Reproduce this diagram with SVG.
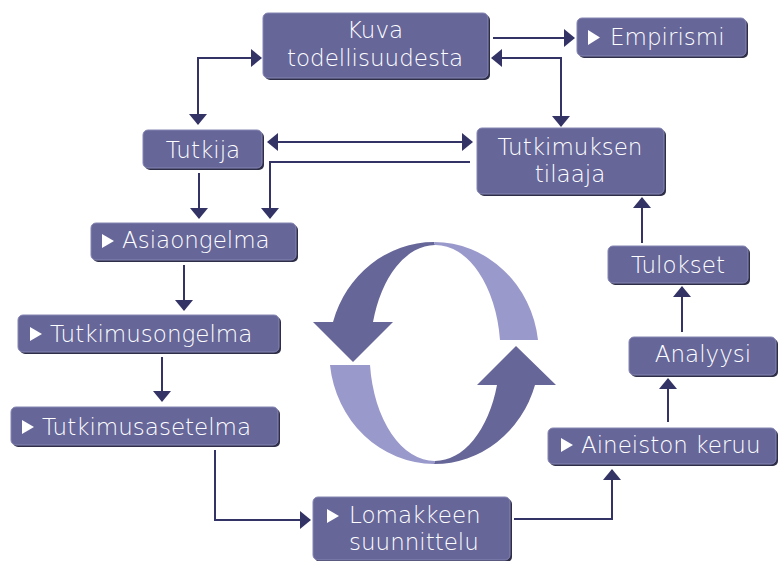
<svg xmlns="http://www.w3.org/2000/svg" width="778" height="561" viewBox="0 0 778 561">
<defs>
<style>
.sh{fill:#2e2e48}
.bx{fill:#666699;stroke:#8585b3;stroke-width:1}
.t{fill:#ffffff;font-family:"DejaVu Sans","Liberation Sans",sans-serif;font-size:23px;font-weight:200}
.c{text-anchor:middle}
.ic{fill:#ffffff}
.ln{fill:none;stroke:#333366;stroke-width:2}
.dk{fill:#666699}
.lt{fill:#9999cc}
</style>
<marker id="ah" markerUnits="userSpaceOnUse" markerWidth="11" markerHeight="18" viewBox="0 0 11 18" refX="10" refY="9" orient="auto-start-reverse">
<path d="M0,0 L11,9 L0,18 Z" fill="#333366"/>
</marker>
</defs>
<rect width="778" height="561" fill="#ffffff"/>

<g id="cycle">
<path class="dk" d="M434,242 A105,111 0 0 0 333,322 L313,322 L353,362 L393,322 L373,322 A65,108 0 0 1 435,245 Z"/>
<path class="lt" d="M434,242 A105,111 0 0 1 538,340 L500,340 A65,108 0 0 0 435,245 Z"/>
<path class="lt" d="M330,365 A105,111 0 0 0 434,464 L435,461 A65,108 0 0 1 370,365 Z"/>
<path class="dk" d="M434,464 A105,111 0 0 0 535,385 L556,385 L516,346 L477,385 L497,385 A65,108 0 0 1 435,461 Z"/>
</g>

<g id="connectors">
<path class="ln" d="M261,58 H198 V124" marker-start="url(#ah)" marker-end="url(#ah)"/>
<path class="ln" d="M493,38 H574" marker-end="url(#ah)"/>
<path class="ln" d="M492,58 H561 V126" marker-start="url(#ah)" marker-end="url(#ah)"/>
<path class="ln" d="M268,142 H472" marker-start="url(#ah)" marker-end="url(#ah)"/>
<path class="ln" d="M470,162 H270 V218" marker-end="url(#ah)"/>
<path class="ln" d="M199,173 V218" marker-end="url(#ah)"/>
<path class="ln" d="M184,265 V310" marker-end="url(#ah)"/>
<path class="ln" d="M162,357 V401" marker-end="url(#ah)"/>
<path class="ln" d="M215,450 V520 H310" marker-end="url(#ah)"/>
<path class="ln" d="M514,519 H612 V470" marker-end="url(#ah)"/>
<path class="ln" d="M668,422 V379" marker-end="url(#ah)"/>
<path class="ln" d="M682,332 V287" marker-end="url(#ah)"/>
<path class="ln" d="M642,243 V198" marker-end="url(#ah)"/>
</g>

<g id="kuva">
<rect class="sh" x="265" y="15" width="225" height="65" rx="5"/>
<rect class="bx" x="263" y="13" width="225" height="65" rx="5"/>
<text class="t c" x="375" y="38">Kuva</text>
<text class="t c" x="375" y="66">todellisuudesta</text>
</g>

<g id="empirismi">
<rect class="sh" x="579" y="20" width="169" height="38" rx="5"/>
<rect class="bx" x="577" y="18" width="169" height="38" rx="5"/>
<polygon class="ic" points="588,30 600,37.5 588,45"/>
<text class="t" x="610" y="45">Empirismi</text>
</g>

<g id="tutkija">
<rect class="sh" x="145" y="132" width="119" height="38" rx="5"/>
<rect class="bx" x="143" y="130" width="119" height="38" rx="5"/>
<text class="t c" x="203" y="158">Tutkija</text>
</g>

<g id="tilaaja">
<rect class="sh" x="479" y="130" width="187" height="66" rx="5"/>
<rect class="bx" x="477" y="128" width="187" height="66" rx="5"/>
<text class="t c" x="570" y="155">Tutkimuksen</text>
<text class="t c" x="570" y="182">tilaaja</text>
</g>

<g id="asiaongelma">
<rect class="sh" x="93" y="225" width="205" height="37" rx="5"/>
<rect class="bx" x="91" y="223" width="205" height="37" rx="5"/>
<polygon class="ic" points="102,234 114,241 102,248"/>
<text class="t" x="122" y="248">Asiaongelma</text>
</g>

<g id="tutkimusongelma">
<rect class="sh" x="20" y="317" width="261" height="37" rx="5"/>
<rect class="bx" x="18" y="315" width="261" height="37" rx="5"/>
<polygon class="ic" points="30,327 42,334 30,341"/>
<text class="t" x="50" y="342">Tutkimusongelma</text>
</g>

<g id="tutkimusasetelma">
<rect class="sh" x="13" y="409" width="267" height="38" rx="5"/>
<rect class="bx" x="11" y="407" width="267" height="38" rx="5"/>
<polygon class="ic" points="22,420 34,427 22,434"/>
<text class="t" x="42" y="435">Tutkimusasetelma</text>
</g>

<g id="lomakkeen">
<rect class="sh" x="315" y="499" width="197" height="63" rx="5"/>
<rect class="bx" x="313" y="497" width="197" height="63" rx="5"/>
<polygon class="ic" points="327,509 339,516 327,523"/>
<text class="t" x="349" y="523">Lomakkeen</text>
<text class="t" x="349" y="550">suunnittelu</text>
</g>

<g id="aineiston">
<rect class="sh" x="550" y="430" width="228" height="36" rx="5"/>
<rect class="bx" x="548" y="428" width="228" height="36" rx="5"/>
<polygon class="ic" points="561,438 573,445 561,452"/>
<text class="t" x="581" y="453">Aineiston keruu</text>
</g>

<g id="analyysi">
<rect class="sh" x="631" y="339" width="147" height="38" rx="5"/>
<rect class="bx" x="629" y="337" width="147" height="38" rx="5"/>
<text class="t c" x="703" y="362">Analyysi</text>
</g>

<g id="tulokset">
<rect class="sh" x="610" y="248" width="140" height="37" rx="5"/>
<rect class="bx" x="608" y="246" width="140" height="37" rx="5"/>
<text class="t c" x="678" y="273">Tulokset</text>
</g>
</svg>
